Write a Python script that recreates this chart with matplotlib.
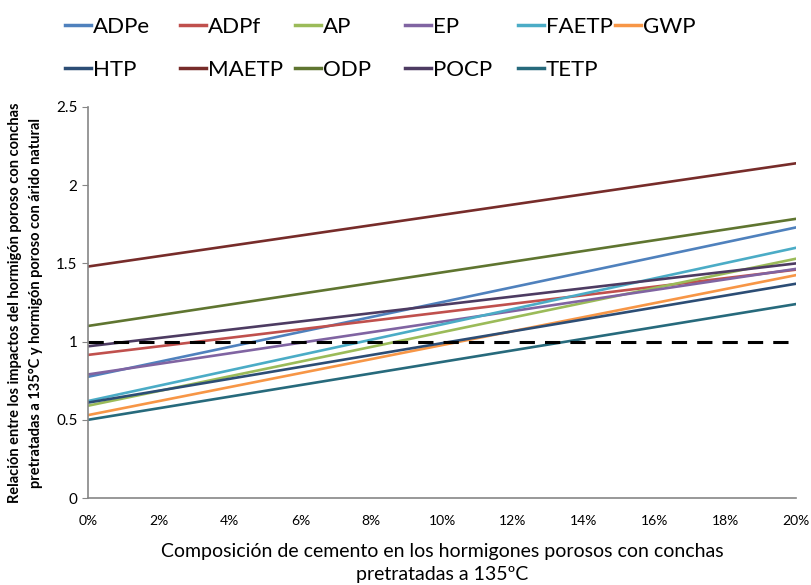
import matplotlib
matplotlib.use('Agg')
import matplotlib.pyplot as plt

# porcentaje de cemento (extremos de cada serie)
x = [0, 20]

series = ['ADPe', 'ADPf', 'AP', 'EP', 'FAETP', 'GWP',
          'HTP', 'MAETP', 'ODP', 'POCP', 'TETP']
y_start = [0.775, 0.915, 0.59, 0.79, 0.62, 0.53, 0.61, 1.48, 1.10, 0.97, 0.50]
y_end = [1.73, 1.46, 1.53, 1.465, 1.60, 1.425, 1.37, 2.14, 1.785, 1.50, 1.24]
colors = ['#4F81BD', '#C0504D', '#9BBB59', '#8064A2', '#4BACC6', '#F79646',
          '#2C4D75', '#772C2A', '#5F7530', '#4D3B62', '#276A7C']

ref_y = [1, 1]
x_ticks = [0, 2, 4, 6, 8, 10, 12, 14, 16, 18, 20]
y_ticks = [0, 0.5, 1, 1.5, 2, 2.5]

plt.rcParams['font.family'] = ['Lato', 'DejaVu Sans']

fig = plt.figure(figsize=(8.11, 5.85), dpi=100)
ax = fig.add_axes([0.1085, 0.1487, 0.873, 0.6684])

handles = []
for name, y0, y1, c in zip(series, y_start, y_end, colors):
    h, = ax.plot(x, [y0, y1], color=c, lw=1.9, label=name)
    handles.append(h)

ax.plot(x, ref_y, color='black', lw=2.2, ls=(0, (5, 3.3)))

ax.set_xlim(0, 20)
ax.set_ylim(0, 2.5)
ax.set_xticks(x_ticks)
ax.set_xticklabels([f'{t}%' for t in x_ticks], fontsize=10)
ax.set_yticks(y_ticks)
ax.set_yticklabels(['0', '0.5', '1', '1.5', '2', '2.5'], fontsize=11)
ax.tick_params(axis='x', length=0, pad=12)
ax.tick_params(axis='y', length=4, color='#868686', direction='out')
for s in ['top', 'right']:
    ax.spines[s].set_visible(False)
for s in ['left', 'bottom']:
    ax.spines[s].set_color('#868686')
    ax.spines[s].set_linewidth(1.2)

ax.set_xlabel('Composición de cemento en los hormigones porosos con conchas\npretratadas a 135ºC',
              fontsize=14, labelpad=12, linespacing=1.4)
ax.set_ylabel('Relación entre los impactos del hormigón poroso con conchas\n'
              'pretratadas a 135°C y hormigón poroso con árido natural',
              fontsize=10.5, fontweight='bold', linespacing=1.6)
ax.yaxis.set_label_coords(-0.064, 0.5)

# leyenda: columnas de ancho fijo como en Excel, dos filas
col_x = [65, 180, 295, 405, 518, 615]
row_y = [27, 70]
for i, name in enumerate(series):
    cx = col_x[i % 6]
    cy = row_y[i // 6]
    leg = fig.legend([handles[i]], [name], loc='center left',
                     bbox_to_anchor=(cx / 811, 1 - cy / 585),
                     frameon=False, borderpad=0, borderaxespad=0,
                     fontsize=16, handlelength=1.15, handletextpad=0.1)
    for line in leg.get_lines():
        line.set_linewidth(2.5)

fig.savefig('out.png', dpi=100)
